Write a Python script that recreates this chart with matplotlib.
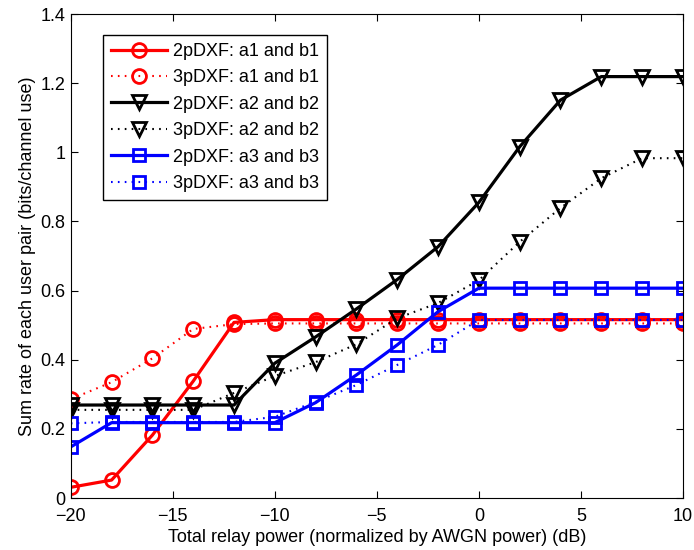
import numpy as np
import matplotlib
matplotlib.use('Agg')
import matplotlib.pyplot as plt

plt.rcParams['font.family'] = ['Liberation Sans', 'DejaVu Sans']

# Moc przekaźnika (dB)
power_db = [-20, -18, -16, -14, -12, -10, -8, -6, -4, -2, 0, 2, 4, 6, 8, 10]

# Suma przepływności dla każdej pary użytkowników
rate_2p_ab1 = [0.031, 0.052, 0.182, 0.338, 0.508, 0.516, 0.516, 0.516, 0.516, 0.516,
               0.516, 0.516, 0.516, 0.516, 0.516, 0.516]
rate_3p_ab1 = [0.286, 0.335, 0.404, 0.489, 0.503, 0.505, 0.505, 0.505, 0.505, 0.505,
               0.505, 0.505, 0.505, 0.505, 0.505, 0.505]
rate_2p_ab2 = [0.269, 0.269, 0.269, 0.269, 0.269, 0.39, 0.466, 0.547, 0.632, 0.727,
               0.855, 1.016, 1.151, 1.219, 1.219, 1.219]
rate_3p_ab2 = [0.255, 0.255, 0.255, 0.255, 0.304, 0.353, 0.393, 0.445, 0.52, 0.564,
               0.63, 0.741, 0.839, 0.925, 0.983, 0.983]
rate_2p_ab3 = [0.148, 0.218, 0.218, 0.218, 0.218, 0.218, 0.276, 0.356, 0.443, 0.539,
               0.607, 0.607, 0.607, 0.607, 0.607, 0.607]
rate_3p_ab3 = [0.216, 0.22, 0.22, 0.22, 0.22, 0.235, 0.278, 0.327, 0.385, 0.443,
               0.515, 0.515, 0.515, 0.515, 0.515, 0.515]

labels = ['2pDXF: a1 and b1', '3pDXF: a1 and b1',
          '2pDXF: a2 and b2', '3pDXF: a2 and b2',
          '2pDXF: a3 and b3', '3pDXF: a3 and b3']

fig = plt.figure(figsize=(6.94, 5.5), dpi=100)
ax = fig.add_axes([0.102, 0.0945, 0.882, 0.88])

series = [
    (rate_2p_ab1, 'red', '-', 'o'),
    (rate_3p_ab1, 'red', ':', 'o'),
    (rate_2p_ab2, 'black', '-', 'v'),
    (rate_3p_ab2, 'black', ':', 'v'),
    (rate_2p_ab3, 'blue', '-', 's'),
    (rate_3p_ab3, 'blue', ':', 's'),
]
for (vals, color, ls, mk), lab in zip(series, labels):
    ms = 10 if mk != 's' else 8
    if ls == '-':
        ax.plot(power_db, vals, color=color, linestyle='-', marker=mk,
                markersize=ms, markerfacecolor='none', markeredgewidth=2,
                linewidth=2.3, label=lab)
    else:
        # kropkowana linia w stylu MATLAB-a (rzadkie kreski)
        ax.plot(power_db, vals, color=color, linestyle=(0, (0.8, 2.5)), marker=mk,
                markersize=ms, markerfacecolor='none', markeredgewidth=2,
                linewidth=1.5, label=lab)

ax.set_xlim(-20, 10)
ax.set_ylim(0, 1.4)
ax.set_xticks([-20, -15, -10, -5, 0, 5, 10])
ax.set_yticks([0, 0.2, 0.4, 0.6, 0.8, 1, 1.2, 1.4])
ax.set_yticklabels(['0', '0.2', '0.4', '0.6', '0.8', '1', '1.2', '1.4'])
ax.tick_params(direction='in', top=True, right=True, labelsize=13, length=5)
ax.tick_params(axis='x', pad=7)
ax.tick_params(axis='y', pad=4)
ax.set_xlabel('Total relay power (normalized by AWGN power) (dB)', fontsize=13, labelpad=3)
ax.set_ylabel('Sum rate of each user pair (bits/channel use)', fontsize=13, labelpad=3)

leg = ax.legend(loc='upper left', bbox_to_anchor=(0.052, 0.957), numpoints=1,
                fontsize=13, fancybox=False, edgecolor='black', framealpha=1,
                handlelength=3.1, borderpad=0.45, labelspacing=0.52, handletextpad=0.35,
                borderaxespad=0.0)
leg.get_frame().set_linewidth(1.0)

fig.savefig('out.png', dpi=100)
